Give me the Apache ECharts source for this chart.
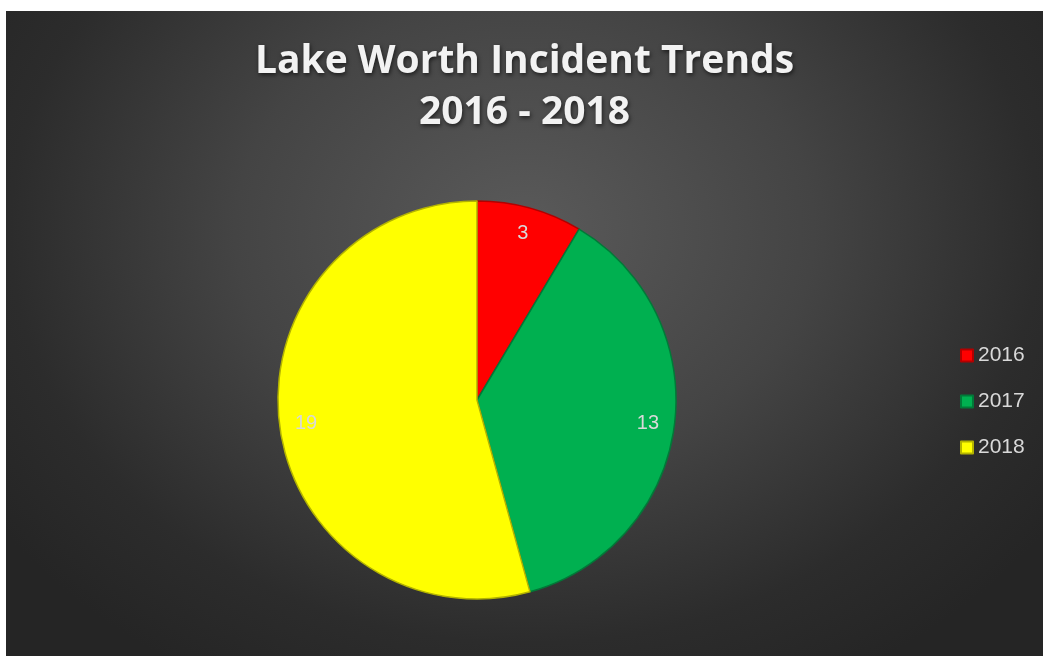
<!DOCTYPE html>
<html>
<head>
<meta charset="utf-8">
<script src="https://cdn.jsdelivr.net/npm/echarts@6/dist/echarts.min.js"></script>
<style>
  html, body { margin: 0; padding: 0; background: #ffffff; }
  #chart { position: absolute; left: 6px; top: 11px; width: 1037px; height: 645px;
    background: radial-gradient(ellipse 62% 80% at 50% 34%, #5a5a5a 0%, #444444 45%, #2c2c2c 80%, #252525 100%); }
</style>
</head>
<body>
<div id="chart"></div>
<script>
const titleLines = ['Lake Worth Incident Trends', '2016 - 2018'];
const categories = ['2016', '2017', '2018'];
const values = [3, 13, 19];
const colors = ['#ff0000', '#00b050', '#ffff00'];
const borderColors = ['#b30000', '#007a38', '#b3b300'];

const chart = echarts.init(document.getElementById('chart'));
const pieData = categories.map((c, i) => ({
  name: c, value: values[i],
  itemStyle: { color: colors[i], borderColor: borderColors[i], borderWidth: 1.5 }
}));
const labelData = categories.map((c, i) => ({ name: c, value: values[i] }));

chart.setOption({
  backgroundColor: 'transparent',
  animation: false,
  title: {
    text: titleLines.join('\n'),
    left: 'center',
    top: 20,
    textStyle: {
      color: '#f2f2f2', fontSize: 39, fontWeight: 'bold', fontFamily: 'Open Sans',
      lineHeight: 51,
      textShadowColor: 'rgba(0,0,0,0.6)', textShadowBlur: 4, textShadowOffsetX: 1, textShadowOffsetY: 2
    }
  },
  legend: {
    orient: 'vertical',
    left: 949,
    top: 329,
    itemWidth: 12, itemHeight: 12, itemGap: 25,
    itemTextGap: 7,
    icon: 'rect',
    data: categories,
    textStyle: { color: '#d9d9d9', fontSize: 21, fontFamily: 'Liberation Sans' }
  },
  series: [
    {
      type: 'pie',
      center: [471, 389],
      radius: [0, 199],
      startAngle: 90,
      clockwise: true,
      label: { show: false },
      labelLine: { show: false },
      emphasis: { disabled: true },
      data: pieData
    },
    {
      type: 'pie',
      center: [471, 389],
      radius: [140, 199],
      startAngle: 90,
      clockwise: true,
      silent: true,
      legendHoverLink: false,
      itemStyle: { color: 'transparent', borderWidth: 0 },
      label: {
        show: true, position: 'inside', formatter: '{c}',
        color: '#d9d9d9', fontSize: 20, fontFamily: 'Liberation Sans'
      },
      labelLine: { show: false },
      emphasis: { disabled: true },
      data: labelData
    }
  ]
});
</script>
</body>
</html>
